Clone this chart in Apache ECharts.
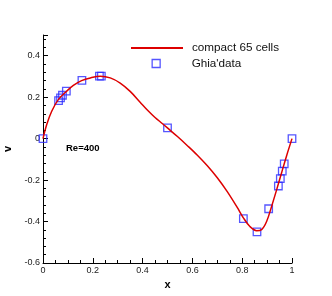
<!DOCTYPE html>
<html>
<head>
<meta charset="utf-8">
<script src="https://cdn.jsdelivr.net/npm/echarts@6/dist/echarts.min.js"></script>
<style>
html,body{margin:0;padding:0;background:#fff;}
#c{width:332px;height:296px;}
</style>
</head>
<body>
<div id="c"></div>
<script>
// compact 65 cells solution
const curveX = [0, 0.015, 0.035, 0.0615, 0.095, 0.122, 0.155, 0.19, 0.23, 0.27, 0.31, 0.35, 0.39, 0.42, 0.45, 0.48, 0.51, 0.54, 0.58, 0.62, 0.66, 0.70, 0.74, 0.78, 0.8047, 0.831, 0.858, 0.878, 0.898, 0.918, 0.9385, 0.9585, 0.9787, 1.0];
const curveV = [0, 0.068, 0.132, 0.188, 0.229, 0.257, 0.280, 0.293, 0.301, 0.293, 0.268, 0.228, 0.176, 0.137, 0.102, 0.072, 0.041, 0.010, -0.034, -0.080, -0.131, -0.189, -0.256, -0.332, -0.382, -0.424, -0.444, -0.439, -0.40, -0.327, -0.246, -0.163, -0.081, 0];
// Ghia's data, Re=400
const ghiaX = [1.0000, 0.9688, 0.9609, 0.9531, 0.9453, 0.9063, 0.8594, 0.8047, 0.5000, 0.2344, 0.2266, 0.1563, 0.0938, 0.0781, 0.0703, 0.0625, 0.0000];
const ghiaV = [0.0, -0.12146, -0.15663, -0.19254, -0.22847, -0.33827, -0.44993, -0.38598, 0.05188, 0.30174, 0.30203, 0.28124, 0.22965, 0.20920, 0.19713, 0.18360, 0.0];
const seriesNames = ['compact 65 cells', "Ghia'data"];
const annotation = 'Re=400';

const chart = echarts.init(document.getElementById('c'), null, {renderer: 'canvas'});
const blue = '#2a2aff';
const red = '#dd0000';
const tickStyle = {color: '#000', width: 1};
chart.setOption({
  backgroundColor: '#fff',
  animation: false,
  grid: {left: 43, right: 40, top: 35, bottom: 33, containLabel: false, outerBoundsMode: 'none'},
  xAxis: {
    type: 'value', min: 0, max: 1, interval: 0.2,
    name: 'x', nameLocation: 'middle', nameGap: 11,
    nameTextStyle: {fontFamily: 'Liberation Sans', fontWeight: 'bold', fontSize: 11, color: '#000'},
    axisLine: {show: true, onZero: false, lineStyle: {color: '#000', width: 1}},
    axisTick: {show: true, inside: true, length: 5, lineStyle: tickStyle},
    minorTick: {show: true, splitNumber: 4, length: 3, lineStyle: tickStyle},
    axisLabel: {fontFamily: 'Liberation Sans', fontSize: 9, color: '#222', margin: 3},
    splitLine: {show: false}
  },
  yAxis: {
    type: 'value', min: -0.6, max: 0.5, interval: 0.2,
    name: 'v', nameLocation: 'middle', nameGap: 19,
    nameTextStyle: {fontFamily: 'Liberation Sans', fontWeight: 'bold', fontSize: 11, color: '#000'},
    axisLine: {show: true, onZero: false, lineStyle: {color: '#000', width: 1}},
    axisTick: {show: true, inside: true, length: 5, lineStyle: tickStyle},
    minorTick: {show: true, splitNumber: 5, length: 3, lineStyle: tickStyle},
    axisLabel: {fontFamily: 'Liberation Sans', fontSize: 9, color: '#222', margin: 3, showMaxLabel: false},
    splitLine: {show: false}
  },
  legend: [
    {
      data: [{name: seriesNames[0], itemStyle: {opacity: 0}}], left: 130, top: 42, padding: 0,
      itemWidth: 52, itemHeight: 14, orient: 'vertical',
      textStyle: {fontFamily: 'Liberation Sans', fontSize: 11.7, color: '#111', padding: [0, 0, 0, 4]}
    },
    {
      data: [{name: seriesNames[1], itemStyle: {color: 'transparent', borderColor: blue, borderWidth: 1.3}}],
      left: 151.5, top: 57.5, padding: 0, itemWidth: 8, itemHeight: 8, orient: 'vertical',
      textStyle: {fontFamily: 'Liberation Sans', fontSize: 11.7, color: '#111', padding: [0, 0, 0, 26.5]}
    }
  ],
  graphic: [{
    type: 'text', left: 66, top: 143,
    style: {text: annotation, font: 'bold 9.5px "Liberation Sans"', fill: '#000'}
  }],
  series: [
    {
      name: seriesNames[0], type: 'line', smooth: 0.35, showSymbol: false, symbol: 'none',
      lineStyle: {color: red, width: 1.5}, itemStyle: {color: red},
      data: curveX.map((x, i) => [x, curveV[i]])
    },
    {
      name: seriesNames[1], type: 'scatter', symbol: 'rect', symbolSize: 7.5,
      itemStyle: {color: 'transparent', borderColor: blue, borderWidth: 1.3},
      data: ghiaX.map((x, i) => [x, ghiaV[i]])
    }
  ]
});
</script>
</body>
</html>
